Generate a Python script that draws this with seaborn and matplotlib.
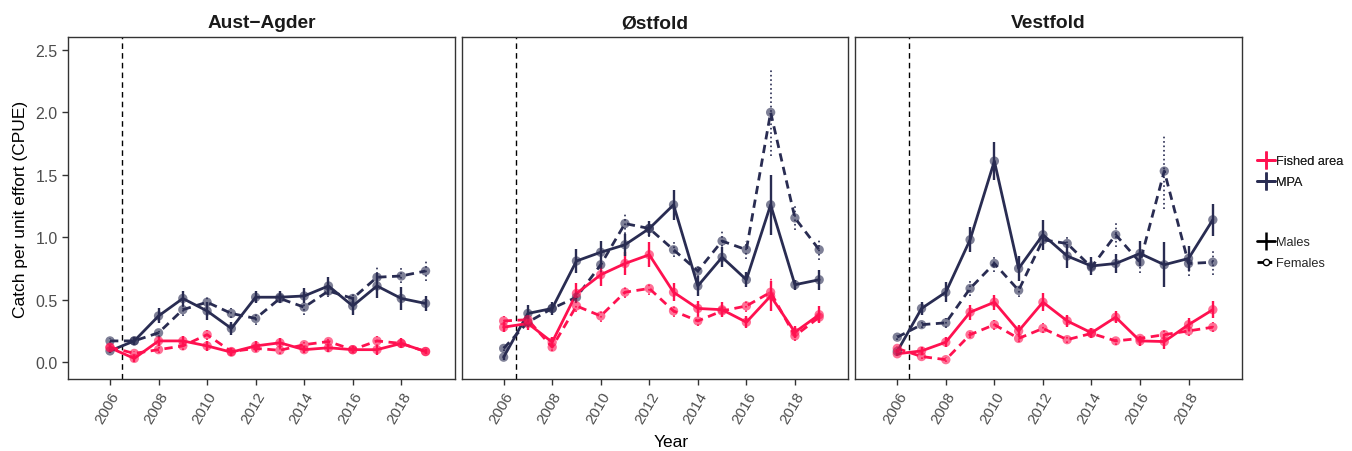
import numpy as np
import pandas as pd
import matplotlib.pyplot as plt
import seaborn as sns
from matplotlib.lines import Line2D

sns.set_theme(style='white')
plt.rcParams['font.family'] = ['Liberation Sans', 'DejaVu Sans']

years = list(range(2006, 2020))
regions = ['Aust\u2212Agder', 'Østfold', 'Vestfold']

# CPUE means and standard errors (2006-2019)
agder_mpa_m = [0.09, 0.17, 0.37, 0.51, 0.41, 0.27, 0.52, 0.52, 0.53, 0.61, 0.45, 0.61, 0.51, 0.47]
agder_mpa_m_se = [0.02, 0.03, 0.06, 0.06, 0.07, 0.05, 0.05, 0.05, 0.06, 0.07, 0.07, 0.1, 0.09, 0.06]
agder_mpa_f = [0.17, 0.17, 0.235, 0.42, 0.48, 0.39, 0.35, 0.51, 0.44, 0.57, 0.51, 0.68, 0.69, 0.73]
agder_mpa_f_se = [0.02, 0.02, 0.03, 0.05, 0.05, 0.04, 0.05, 0.04, 0.06, 0.05, 0.05, 0.08, 0.06, 0.08]
agder_fish_m = [0.115, 0.03, 0.17, 0.17, 0.13, 0.08, 0.13, 0.155, 0.10, 0.115, 0.10, 0.10, 0.15, 0.085]
agder_fish_m_se = [0.02, 0.03, 0.04, 0.04, 0.04, 0.03, 0.04, 0.04, 0.03, 0.03, 0.03, 0.04, 0.04, 0.02]
agder_fish_f = [0.12, 0.07, 0.10, 0.13, 0.22, 0.085, 0.11, 0.095, 0.14, 0.165, 0.10, 0.17, 0.15, 0.085]
agder_fish_f_se = [0.02, 0.02, 0.03, 0.03, 0.04, 0.02, 0.03, 0.03, 0.03, 0.03, 0.03, 0.04, 0.03, 0.02]

ost_mpa_m = [0.04, 0.39, 0.43, 0.81, 0.88, 0.94, 1.07, 1.26, 0.61, 0.84, 0.66, 1.26, 0.62, 0.66]
ost_mpa_m_se = [0.02, 0.07, 0.05, 0.1, 0.09, 0.09, 0.06, 0.12, 0.08, 0.08, 0.06, 0.24, 0.04, 0.08]
ost_mpa_f = [0.11, 0.32, 0.43, 0.52, 0.78, 1.11, 1.07, 0.90, 0.73, 0.97, 0.90, 2.00, 1.155, 0.90]
ost_mpa_f_se = [0.02, 0.04, 0.04, 0.05, 0.06, 0.08, 0.07, 0.06, 0.05, 0.08, 0.07, 0.35, 0.1, 0.08]
ost_fish_m = [0.28, 0.31, 0.16, 0.55, 0.70, 0.79, 0.86, 0.56, 0.43, 0.42, 0.32, 0.53, 0.24, 0.38]
ost_fish_m_se = [0.04, 0.05, 0.04, 0.08, 0.09, 0.09, 0.1, 0.07, 0.06, 0.06, 0.05, 0.12, 0.05, 0.07]
ost_fish_f = [0.33, 0.34, 0.12, 0.45, 0.37, 0.56, 0.59, 0.41, 0.33, 0.41, 0.45, 0.56, 0.21, 0.36]
ost_fish_f_se = [0.04, 0.04, 0.03, 0.05, 0.05, 0.05, 0.05, 0.05, 0.04, 0.05, 0.05, 0.12, 0.04, 0.05]

vest_mpa_m = [0.086, 0.43, 0.56, 0.98, 1.61, 0.75, 1.02, 0.85, 0.77, 0.79, 0.87, 0.78, 0.83, 1.14]
vest_mpa_m_se = [0.02, 0.05, 0.08, 0.1, 0.15, 0.1, 0.12, 0.1, 0.07, 0.08, 0.1, 0.18, 0.1, 0.13]
vest_mpa_f = [0.20, 0.30, 0.315, 0.59, 0.79, 0.575, 0.98, 0.95, 0.76, 1.02, 0.80, 1.53, 0.79, 0.80]
vest_mpa_f_se = [0.02, 0.03, 0.04, 0.06, 0.07, 0.05, 0.08, 0.07, 0.06, 0.1, 0.09, 0.3, 0.1, 0.1]
vest_fish_m = [0.067, 0.09, 0.16, 0.40, 0.48, 0.25, 0.48, 0.33, 0.235, 0.36, 0.17, 0.165, 0.30, 0.42]
vest_fish_m_se = [0.02, 0.03, 0.04, 0.06, 0.06, 0.05, 0.07, 0.05, 0.04, 0.05, 0.04, 0.06, 0.05, 0.07]
vest_fish_f = [0.11, 0.045, 0.02, 0.22, 0.30, 0.19, 0.27, 0.18, 0.23, 0.17, 0.19, 0.22, 0.25, 0.28]
vest_fish_f_se = [0.02, 0.02, 0.02, 0.03, 0.04, 0.03, 0.04, 0.03, 0.03, 0.03, 0.03, 0.05, 0.04, 0.04]

series = {
    regions[0]: {('MPA', 'Males'): (agder_mpa_m, agder_mpa_m_se),
                 ('MPA', 'Females'): (agder_mpa_f, agder_mpa_f_se),
                 ('Fished area', 'Males'): (agder_fish_m, agder_fish_m_se),
                 ('Fished area', 'Females'): (agder_fish_f, agder_fish_f_se)},
    regions[1]: {('MPA', 'Males'): (ost_mpa_m, ost_mpa_m_se),
                 ('MPA', 'Females'): (ost_mpa_f, ost_mpa_f_se),
                 ('Fished area', 'Males'): (ost_fish_m, ost_fish_m_se),
                 ('Fished area', 'Females'): (ost_fish_f, ost_fish_f_se)},
    regions[2]: {('MPA', 'Males'): (vest_mpa_m, vest_mpa_m_se),
                 ('MPA', 'Females'): (vest_mpa_f, vest_mpa_f_se),
                 ('Fished area', 'Males'): (vest_fish_m, vest_fish_m_se),
                 ('Fished area', 'Females'): (vest_fish_f, vest_fish_f_se)},
}

rows = []
for region, d in series.items():
    for (area, sex), (vals, ses) in d.items():
        for y, v, s in zip(years, vals, ses):
            rows.append({'region': region, 'area': area, 'sex': sex, 'year': y, 'cpue': v, 'se': s})
df = pd.DataFrame(rows)

pal = {'Fished area': '#FF1150', 'MPA': '#292C52'}
dashes = {'Males': '', 'Females': (3, 2)}

fig, axes = plt.subplots(1, 3, figsize=(13.52, 4.52), dpi=100, sharey=True)
fig.subplots_adjust(left=0.0503, right=0.9186, bottom=0.159, top=0.916, wspace=0.018)

for ax, region in zip(axes, regions):
    sub = df[df.region == region]
    # error bars
    for (area, sex), g in sub.groupby(['area', 'sex']):
        eb = ax.errorbar(g.year, g.cpue, yerr=g.se, fmt='none', ecolor=pal[area],
                         elinewidth=1.7 if sex == 'Males' else 1.2, capsize=0, zorder=2)
        if sex == 'Females':
            eb.lines[2][0].set_linestyle(':')
    sns.lineplot(data=sub, x='year', y='cpue', hue='area', style='sex', palette=pal,
                 dashes=dashes, linewidth=2.0, legend=False, ax=ax, zorder=3)
    sns.scatterplot(data=sub, x='year', y='cpue', hue='area', palette=pal, s=45,
                    alpha=0.6, linewidth=0, legend=False, ax=ax, zorder=4)
    ax.axvline(2006.5, color='black', linestyle=(0, (4, 3)), linewidth=1.0, zorder=1)
    ax.set_xlim(2004.27, 2020.2)
    ax.set_ylim(-0.136, 2.604)
    ax.set_xticks(range(2006, 2020, 2))
    ax.set_xticklabels([str(y) for y in range(2006, 2020, 2)], rotation=60,
                       ha='right', rotation_mode='anchor')
    ax.set_title(region, fontsize=13.8, fontweight='bold', color='#1a1a1a', pad=7)
    ax.set_xlabel('')
    ax.set_ylabel('')
    for sp in ax.spines.values():
        sp.set_color('#333333')
        sp.set_linewidth(1.0)
    ax.tick_params(axis='x', bottom=True, length=4, width=1, color='#333333',
                   labelsize=11, labelcolor='#4D4D4D', pad=3)
    ax.tick_params(axis='y', left=(ax is axes[0]), length=4, width=1, color='#333333',
                   labelsize=11.5, labelcolor='#4D4D4D')
    ax.grid(False)

axes[0].set_yticks([0.0, 0.5, 1.0, 1.5, 2.0, 2.5])
axes[0].set_yticklabels(['0.0', '0.5', '1.0', '1.5', '2.0', '2.5'])
axes[0].set_ylabel('Catch per unit effort (CPUE)', fontsize=12.5, color='black', labelpad=5)
fig.text(0.4967, 0.005, 'Year', ha='center', va='bottom', fontsize=12.5, color='black')

area_handles = [Line2D([], [], color=pal[a], lw=2.0, marker='|', markersize=13,
                       markeredgewidth=1.8) for a in ['Fished area', 'MPA']]
sex_handles = [Line2D([], [], color='black', lw=2.0, marker='|', markersize=13, markeredgewidth=1.8),
               Line2D([], [], color='black', lw=2.0, linestyle=(0, (2, 1.3)), marker='o',
                      markersize=4.5, markerfacecolor='white', markeredgewidth=1.0)]
leg1 = fig.legend(area_handles, ['Fished area', 'MPA'], loc='upper left',
                  bbox_to_anchor=(0.921, 0.68), frameon=False, fontsize=9.2,
                  handlelength=1.4, handletextpad=0.1, labelspacing=0.7)
fig.add_artist(leg1)
fig.legend(sex_handles, ['Males', 'Females'], loc='upper left',
           bbox_to_anchor=(0.921, 0.5), frameon=False, fontsize=9.2,
           handlelength=1.4, handletextpad=0.1, labelspacing=0.7)

fig.savefig('out.png', dpi=100)
